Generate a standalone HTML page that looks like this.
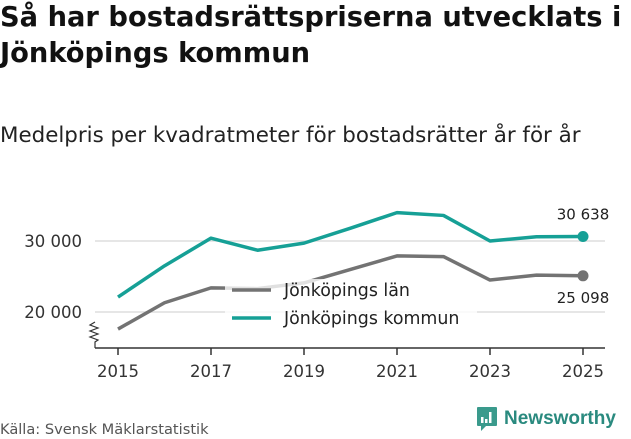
<!DOCTYPE html>
<html><head><meta charset="utf-8">
<style>
body{margin:0;background:#fff;width:631px;height:439px;overflow:hidden;font-family:"DejaVu Sans","Liberation Sans",sans-serif;}
h1{position:absolute;left:0;top:0;margin:0;font-size:27.3px;line-height:36px;font-weight:bold;color:#111;width:631px;}
.sub{position:absolute;left:0;top:123px;font-size:21.4px;color:#222;}
.src{position:absolute;left:0;top:421px;font-size:14.6px;color:#555;}
.logo{position:absolute;left:476px;top:406px;display:flex;align-items:center;gap:6px;color:#2a8a7f;font-size:19px;font-weight:bold;font-family:"Liberation Sans",sans-serif;}
</style></head><body>
<h1>Så har bostadsrättspriserna utvecklats i Jönköpings kommun</h1>
<div class="sub">Medelpris per kvadratmeter för bostadsrätter år för år</div>
<svg id="c" width="631" height="439" style="position:absolute;left:0;top:0"></svg>
<div class="src">Källa: Svensk Mäklarstatistik</div>
<div class="logo">
<svg width="22" height="26" viewBox="0 0 22 26"><path d="M2 1h18a1 1 0 0 1 1 1v17a1 1 0 0 1-1 1H10l-5 5v-5H2a1 1 0 0 1-1-1V2a1 1 0 0 1 1-1z" fill="#3a9a8c"/><rect x="5" y="11" width="2.5" height="6" fill="#fff"/><rect x="9" y="13" width="2.5" height="4" fill="#fff"/><rect x="13" y="6" width="2.5" height="11" fill="#fff"/></svg>
<span>Newsworthy</span></div>
<script>
const years=[2015,2016,2017,2018,2019,2020,2021,2022,2023,2024,2025];
const kommun=[22100,26500,30400,28700,29700,31800,34000,33600,30000,30600,30638];
const lan=[17600,21300,23400,23300,24100,26000,27900,27800,24500,25200,25098];
const yTicks=[20000,30000];
const xTicks=[2015,2017,2019,2021,2023,2025];
const NS="http://www.w3.org/2000/svg";
const svg=document.getElementById('c');
const x=v=>118+(v-2015)*46.5;
const y=v=>241-(v-30000)*0.0071;
function mk(t,a){const e=document.createElementNS(NS,t);for(const k in a)e.setAttribute(k,a[k]);svg.appendChild(e);return e;}
const fmt=v=>String(v).replace(/\B(?=(\d{3})+(?!\d))/g,' ');
yTicks.forEach(t=>{
 const g=mk('line',{x1:95,x2:605,y1:y(t),y2:y(t),stroke:'#ddd','stroke-width':1.5});
 
 
 const l=mk('text',{x:82,y:y(t)+6,'text-anchor':'end','font-size':16.5,fill:'#333'});
 l.textContent=fmt(t);
 
 
});
const ax=mk('line',{x1:95,x2:605,y1:348,y2:348,stroke:'#333','stroke-width':1.5});


const br=mk('path',{d:'M95 322 l-5 3 l8 3 l-8 3 l8 3 l-8 3 l8 3 l-3 2 v6',fill:'none',stroke:'#333','stroke-width':1.2});


xTicks.forEach(t=>{
 const tk=mk('line',{x1:x(t),x2:x(t),y1:348,y2:355,stroke:'#333','stroke-width':1.5});
 
 
 const l=mk('text',{x:x(t),y:377,'text-anchor':'middle','font-size':16.5,fill:'#333'});
 l.textContent=t;
 
 
});
function line(vals,col,name){
 const p=mk('polyline',{points:vals.map((v,i)=>x(years[i])+','+y(v)).join(' '),fill:'none',stroke:col,'stroke-width':3.5,'stroke-linejoin':'round'});
 
 
 const n=vals.length-1;
 const c=mk('circle',{cx:x(years[n]),cy:y(vals[n]),r:5.5,fill:col});
 
 
}
line(lan,'#737373','lan-line');
line(kommun,'#16a096','kommun-line');
const lk=mk('text',{x:x(2025),y:y(kommun[10])-17,'text-anchor':'middle','font-size':15,fill:'#222'});
lk.textContent=fmt(kommun[10]);


const ll=mk('text',{x:x(2025),y:y(lan[10])+27,'text-anchor':'middle','font-size':15,fill:'#222'});
ll.textContent=fmt(lan[10]);


const bg=mk('rect',{x:225,y:279,width:252,height:56,fill:'#fff','fill-opacity':0.78});


[['Jönköpings län','#737373',290],['Jönköpings kommun','#16a096',318]].forEach(([t,c,yy])=>{
 const s=mk('line',{x1:232,x2:271,y1:yy,y2:yy,stroke:c,'stroke-width':3.5});
 
 
 const l=mk('text',{x:284,y:yy+6,'font-size':17.4,fill:'#222'});
 l.textContent=t;
 
 
});
</script>
</body></html>
